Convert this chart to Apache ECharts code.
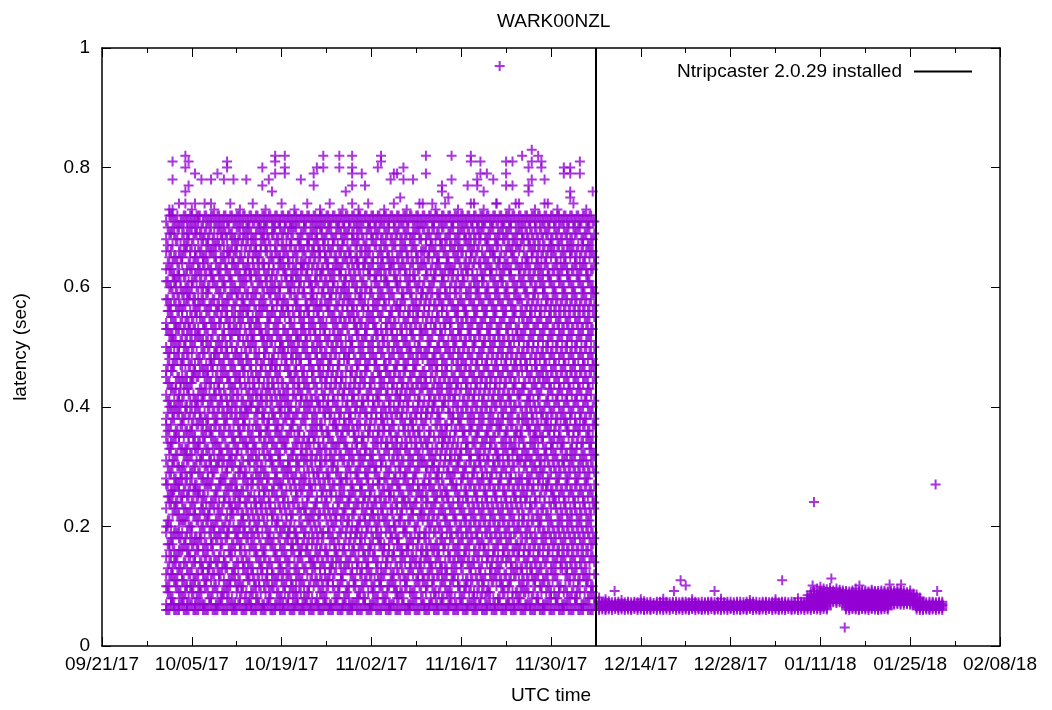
<!DOCTYPE html>
<html>
<head>
<meta charset="utf-8">
<script src="https://cdn.jsdelivr.net/npm/echarts@6/dist/echarts.min.js"></script>
<style>
  html, body { margin: 0; padding: 0; background: #fff; }
  #chart { width: 1052px; height: 710px; }
</style>
</head>
<body>
<div id="chart"></div>
<script>
// x tick labels, one every 14 days from 09/21/17
const xTickLabels = ["09/21/17", "10/05/17", "10/19/17", "11/02/17", "11/16/17", "11/30/17",
  "12/14/17", "12/28/17", "01/11/18", "01/25/18", "02/08/18"];
const yTickLabels = ["0", "0.2", "0.4", "0.6", "0.8", "1"];

const legendName = "Ntripcaster 2.0.29 installed";
const installTime = "2017-12-06 22:00";

// before the install: latencies (hundredths of a second), one column every 12 h from 10/01/17 00:00
const mainStart = "2017-10-01 00:00";
const mainColumns = [
  "06 07 10 12 15 19 20 23 27 28 31 35 37 38 42 45 46 50 53 54 58 61 63 66 68 71", "06 09 11 14 16 17 21 24 25 29 32 33 36 40 41 44 48 49 52 56 57 60 63 65 69 72 73", // 10/01
  "07 08 12 13 17 18 22 25 26 30 31 34 38 39 43 46 47 51 52 55 59 62 64 67 70 72", "06 10 11 14 15 19 23 24 27 28 32 35 36 40 43 44 48 51 53 54 57 60 61 65 68 71",
  "06 07 09 13 16 18 20 22 26 27 30 34 35 39 41 42 45 49 50 53 56 58 62 63 66 70 74", "07 08 11 12 16 19 21 24 25 28 30 33 37 38 41 45 47 48 52 55 56 59 64 65 69 71",
  "06 09 10 14 17 18 21 23 27 29 32 33 36 39 40 44 46 50 51 54 57 60 62 66 67 72", "06 08 12 15 16 20 22 25 26 31 34 35 38 42 43 47 49 53 54 58 59 61 64 68 69 71",
  "07 09 10 13 17 19 20 24 28 29 32 36 37 40 44 45 48 50 52 55 60 61 63 67 70 72 73", "06 07 11 14 15 18 22 23 26 27 30 33 35 39 41 46 47 51 53 56 58 62 65 66 69 71",
  "06 08 10 12 16 17 21 25 26 29 33 34 37 40 42 45 48 52 53 57 59 63 64 67 71 72", "07 09 13 14 18 20 23 24 28 31 32 36 38 41 43 47 50 51 55 58 60 62 66 68 70", // 10/06
  "06 07 10 11 15 17 19 22 25 27 30 34 35 39 42 44 46 49 53 54 57 61 63 65 69 72 74", "06 09 12 13 16 21 22 26 28 29 33 37 38 40 45 46 50 52 56 59 60 64 67 68 71",
  "07 08 11 14 17 18 20 24 27 30 31 35 36 41 44 47 48 51 54 57 62 63 66 70 72", "06 10 12 15 19 20 23 25 29 32 34 37 39 42 43 48 49 53 55 58 61 65 67 69 71 73",
  "06 07 09 13 14 18 21 23 26 30 31 34 38 40 44 46 49 51 56 57 60 63 68 70 72", "07 08 12 16 17 19 22 27 28 32 33 36 41 42 45 47 50 54 55 59 62 64 66 69 71",
  "06 09 11 14 15 20 24 25 28 31 35 37 39 43 46 48 52 53 57 60 61 65 67 70 72", "06 08 10 13 18 19 22 26 29 30 33 38 40 41 45 49 50 55 56 58 63 66 68 71",
  "07 10 11 15 16 21 23 24 27 31 32 36 39 42 44 47 51 52 54 59 61 62 66 69 72 74", "06 07 12 13 17 20 22 25 28 30 34 35 37 41 43 46 48 53 55 57 60 64 65 68 71", // 10/11
  "06 09 10 14 18 19 23 26 27 32 33 38 40 42 45 49 50 53 58 59 63 66 67 70 72", "07 08 11 16 17 20 24 25 29 30 35 36 39 44 45 48 52 54 56 60 62 65 69 71 73",
  "06 10 13 14 19 21 22 26 28 31 34 37 38 41 46 47 51 55 57 58 61 64 68 70 72", "06 07 09 12 15 18 23 24 27 29 33 34 39 40 43 48 49 52 56 59 61 63 67 69 71",
  "07 08 11 14 16 20 21 25 30 31 35 37 40 42 44 47 50 53 54 57 62 63 66 70 72", "06 09 12 13 17 19 22 27 28 32 34 36 41 43 45 51 52 55 58 60 64 65 68 71 74",
  "06 08 10 15 16 20 23 24 29 31 33 37 39 42 46 48 50 54 56 59 62 66 67 69 72", "07 10 11 14 18 21 25 26 28 32 35 36 40 44 45 49 53 55 57 61 63 65 70 71",
  "06 07 12 13 16 19 22 24 27 30 33 38 39 41 43 47 51 52 56 58 60 64 68 69 72", "06 09 11 15 17 20 23 26 29 31 34 36 40 42 46 49 50 53 57 61 62 66 67 70 71 73", // 10/16
  "07 08 10 14 18 19 24 25 28 32 35 37 38 43 45 48 52 54 55 59 63 64 68 72", "06 10 12 13 17 21 22 26 30 31 34 39 41 44 47 48 51 56 57 60 62 65 69 71",
  "06 07 11 15 16 20 23 25 28 29 33 36 38 42 46 47 50 53 55 59 61 66 67 70 72", "07 09 12 14 18 21 24 27 31 32 35 37 40 43 45 49 52 54 58 60 63 65 68 71",
  "06 08 11 13 16 19 22 26 27 30 34 36 39 41 44 48 50 51 56 57 61 64 67 69 72 74", "06 09 10 15 17 20 23 25 29 33 34 38 40 42 47 49 53 55 58 62 63 66 70 71",
  "07 08 12 14 18 19 24 28 30 31 35 39 41 43 46 50 52 56 57 60 64 65 69 72", "06 10 11 16 17 21 22 26 29 32 36 37 40 45 48 49 51 54 59 61 62 67 68 70 71",
  "06 07 09 13 15 19 20 24 27 28 33 35 38 42 44 46 50 53 55 58 60 63 66 70 72 73", "07 08 12 14 17 18 23 25 30 31 34 36 39 43 45 49 51 52 57 59 62 65 68 71", // 10/21
  "06 09 11 15 16 20 22 26 28 32 33 37 41 42 47 48 52 54 56 61 63 64 67 69 72", "06 08 10 13 18 19 23 27 29 31 35 38 40 44 46 50 53 55 59 60 64 66 70 71",
  "07 09 12 16 17 21 24 25 30 32 34 39 41 43 45 49 51 56 57 62 63 67 68 72 74", "06 07 11 14 15 20 22 26 27 31 33 36 40 42 47 48 52 54 58 60 61 65 69 71",
  "06 10 13 14 18 21 23 28 29 34 35 37 39 44 46 50 53 55 57 59 64 66 67 70 72", "07 08 11 15 17 19 24 25 29 32 36 38 41 43 48 49 51 56 58 61 63 68 69 71",
  "06 09 12 13 16 20 22 27 30 31 33 37 40 45 47 50 52 54 57 62 65 66 70 72 73", "06 08 10 14 18 19 23 26 28 34 35 39 41 42 46 48 53 55 59 60 63 67 68 71",
  "07 09 11 15 16 21 24 25 29 31 33 36 40 44 45 49 51 54 57 61 64 65 69 72", "06 07 12 13 17 19 22 26 28 32 35 38 39 43 47 48 52 56 58 59 62 66 70 71 74", // 10/26
  "06 10 11 14 18 20 23 27 30 31 34 37 41 42 46 50 53 55 60 61 63 67 68 72", "07 08 13 15 16 21 22 25 29 33 36 37 40 44 45 49 51 54 57 59 64 65 69 71",
  "06 09 10 14 17 19 24 26 28 32 34 38 39 43 47 48 52 55 58 62 63 66 70 72", "06 07 11 12 16 20 22 25 27 31 35 36 41 42 45 50 53 56 57 60 64 67 68 71 73",
  "07 09 13 15 18 19 23 28 29 33 34 37 40 44 46 49 51 54 59 61 62 65 69 72", "06 08 10 14 17 21 24 25 30 32 36 38 39 43 48 49 52 55 58 60 63 66 70 71",
  "06 07 12 13 16 20 22 26 27 31 33 37 41 42 46 50 51 56 57 61 64 68 69 72 74", "07 10 11 15 18 19 23 25 29 34 35 39 40 44 45 48 53 54 59 60 62 65 67 71",
  "06 08 09 14 16 20 21 24 28 30 32 36 38 42 43 47 50 52 55 58 63 64 68 70 72 73", "06 10 12 13 17 19 23 26 27 31 34 35 40 41 45 49 51 54 57 59 61 66 69 71", // 10/31
  "07 08 11 15 18 21 22 25 29 32 33 37 39 44 46 48 52 53 58 60 64 65 67 72", "06 09 13 14 16 20 24 27 28 30 35 36 41 42 47 50 54 56 57 62 63 66 70 71 74",
  "06 07 10 12 17 19 22 23 26 31 32 38 39 43 45 49 51 55 59 60 64 68 69 72", "07 09 11 15 16 21 24 25 29 30 34 37 40 44 47 48 53 54 57 61 62 67 70 71",
  "06 08 12 14 18 20 22 27 28 33 35 36 41 42 46 50 52 56 58 60 63 65 69 72", "06 10 11 13 17 19 23 25 30 31 34 38 39 43 45 49 53 55 59 62 64 66 68 71",
  "07 08 12 16 17 21 24 26 28 32 36 37 40 44 47 48 51 57 58 61 63 67 70 72 73", "06 09 10 14 15 20 22 27 29 33 34 38 42 43 46 50 52 54 60 61 65 66 69 71",
  "06 07 11 13 18 19 23 25 26 30 35 36 39 41 45 48 53 55 56 59 63 64 68 72", "07 10 12 15 16 20 21 25 28 31 33 37 40 44 46 49 51 54 58 62 64 67 70 71 74", // 11/05
  "06 08 09 13 17 18 23 24 27 32 34 35 39 42 43 47 50 52 57 60 61 65 69 72", "06 09 11 14 16 21 22 26 29 30 33 38 41 42 45 49 53 56 57 61 63 66 68 71",
  "07 08 12 15 19 20 24 25 28 31 36 37 40 44 46 48 51 55 58 59 64 67 70 72", "06 10 11 16 17 19 23 27 29 33 34 39 41 43 47 50 52 54 60 62 65 66 69 71 73",
  "06 07 09 13 14 18 21 24 26 30 32 35 38 42 45 49 50 53 56 59 61 63 68 72", "07 09 12 15 17 22 23 27 28 31 36 37 40 43 46 48 52 55 57 62 64 67 69 71",
  "06 08 11 14 16 20 24 25 29 33 34 38 39 44 47 49 54 56 58 60 65 66 70 72", "06 10 13 14 18 19 22 26 30 32 35 36 41 42 45 50 51 53 57 61 63 68 69 71 74",
  "07 08 11 12 16 21 23 25 27 31 33 37 40 43 46 48 52 55 59 60 64 66 70 72", "06 09 10 15 17 19 24 26 29 30 34 38 39 44 45 49 53 54 58 62 63 67 68 71", // 11/10
  "06 07 12 14 18 20 22 27 28 32 35 36 41 42 47 50 51 56 57 60 65 66 69 72", "07 10 11 13 16 21 23 26 30 31 33 39 40 43 46 48 52 55 59 61 64 67 70 71",
  "06 08 09 14 17 19 24 25 28 32 34 37 41 45 47 49 53 54 57 62 63 66 68 72 73", "06 09 12 15 16 20 22 27 29 30 35 38 39 42 44 50 51 55 58 59 64 65 69 71",
  "07 08 11 13 18 19 23 25 28 33 34 36 40 43 46 48 52 56 57 61 62 67 70 72", "06 10 12 14 17 21 22 26 31 32 35 37 41 45 47 50 53 54 59 60 63 66 68 71 74",
  "06 07 09 15 16 20 24 25 29 30 34 39 40 42 44 49 51 55 58 62 64 65 69 72", "07 09 11 13 18 19 23 27 28 31 33 37 38 43 46 48 52 54 57 61 63 67 70 71",
  "06 08 12 14 16 21 22 26 29 32 35 36 41 42 45 50 51 56 59 60 64 66 68 72", "06 10 11 15 17 19 24 25 30 31 34 38 40 44 47 49 53 55 57 62 65 67 69 71 73", // 11/15
  "07 08 13 14 18 20 23 27 28 32 33 37 39 43 46 48 52 54 58 60 63 66 70 72", "06 09 10 15 16 21 22 26 29 30 35 36 41 45 47 50 51 56 57 61 64 68 69 71",
  "06 07 11 14 17 19 24 25 28 33 34 38 40 42 44 49 53 55 59 62 63 67 70 72", "07 10 12 13 18 20 22 27 31 32 36 37 39 43 46 48 52 54 58 60 65 66 68 71",
  "06 08 09 14 16 21 23 26 29 30 34 38 41 42 45 50 51 55 57 61 64 67 69 72 74", "06 09 11 15 18 19 24 25 28 32 35 36 40 44 47 48 53 56 59 60 62 66 70 71",
  "07 08 12 13 17 20 22 27 30 31 33 37 39 43 45 49 52 54 58 63 64 68 69 72", "06 10 11 16 17 21 23 26 28 32 34 38 41 42 46 50 51 55 57 61 62 65 70 71 73",
  "06 07 09 14 15 19 24 25 29 31 35 36 40 44 47 48 53 56 59 60 64 67 68 72", "07 09 12 13 18 20 22 27 28 33 34 37 39 43 45 50 52 54 58 62 63 66 69 71", // 11/20
  "06 08 11 15 16 21 23 26 30 31 35 38 41 42 46 49 51 55 57 61 65 66 70 72", "06 10 12 14 17 19 24 25 29 32 33 37 40 44 47 48 53 56 59 60 63 67 68 71 74",
  "07 08 11 13 18 20 22 27 28 31 36 37 41 43 45 50 52 54 58 62 64 65 69 72", "06 09 10 15 16 21 23 26 30 32 34 38 39 42 46 49 51 55 57 61 63 68 70 71",
  "06 07 12 14 17 19 24 25 29 33 35 36 40 44 47 48 53 56 59 60 64 66 69 72", "07 10 11 15 18 20 22 27 28 31 34 38 41 42 45 50 51 54 58 62 63 67 70 71 73",
  "06 08 09 13 16 21 23 26 30 32 33 37 39 43 46 49 52 55 57 61 65 66 68 72", "06 09 12 14 17 19 24 25 28 33 35 36 40 44 47 48 53 56 59 60 64 67 69 71",
  "07 08 11 15 16 20 22 27 29 31 34 38 41 42 45 50 51 54 58 62 63 66 70 72 74", "06 10 12 13 18 21 23 26 28 32 35 37 39 43 46 49 52 55 57 61 64 68 69 71", // 11/25
  "06 07 09 14 17 19 24 25 30 31 33 38 40 44 47 48 53 56 59 60 63 65 70 72", "07 09 11 15 16 20 22 27 28 32 36 37 41 42 45 50 51 54 58 62 64 67 68 71",
  "06 08 12 13 18 21 23 26 29 31 34 38 39 43 46 49 52 55 57 61 65 66 69 72", "06 10 11 14 17 19 24 25 30 33 35 36 40 44 47 48 53 56 59 60 63 67 70 71 73",
  "07 08 12 15 16 20 22 27 28 32 34 37 41 42 45 50 51 54 58 62 64 66 68 72", "06 09 10 13 18 21 23 26 29 31 35 38 39 43 46 49 52 55 57 61 63 65 69 71",
  "06 07 11 14 17 19 24 25 30 32 33 37 40 44 47 48 53 56 59 60 64 67 70 72", "07 10 12 15 16 20 22 27 28 31 36 38 41 42 45 50 51 54 58 62 63 66 69 71 74",
  "06 08 09 13 18 21 23 26 29 33 34 37 39 43 46 49 52 55 57 61 65 67 68 72", "06 09 12 14 17 19 24 25 30 32 35 36 40 44 47 48 53 56 59 60 63 66 70 71", // 11/30
  "07 08 11 15 16 20 22 27 28 31 34 38 41 42 45 50 51 54 58 62 64 67 69 72 73", "06 10 13 14 18 21 23 26 29 33 35 37 39 43 46 49 52 55 57 61 63 65 68 71",
  "06 07 09 15 17 19 24 25 30 31 34 38 40 44 47 48 53 56 59 60 64 66 70 72", "07 09 12 13 16 20 22 27 28 32 36 37 41 42 45 50 51 54 58 62 63 67 69 71",
  "06 08 11 14 18 21 23 26 29 31 33 38 39 43 46 49 52 55 57 61 65 66 68 72", "06 10 12 15 17 19 24 25 30 32 35 36 40 44 47 48 53 56 59 60 63 67 70 71 74",
  "07 08 09 13 16 20 22 27 28 33 34 37 41 42 45 50 51 54 58 62 64 66 69 72", "06 09 11 14 18 21 23 26 29 31 36 38 39 43 46 49 52 55 57 61 63 65 70 71",
  "06 07 12 15 17 19 24 25 30 32 34 37 40 44 47 48 53 56 59 60 64 67 68 72", "07 10 11 13 16 20 22 27 28 31 35 38 41 42 45 50 51 54 58 62 63 66 69 71 73", // 12/05
  "06 08 12 14 18 21 23 26 29 33 34 36 39 43 46 49 52 55 57 61 65 67 70 72", "06 09 10 15 17 19 24 25 30 32 35 37 40 44 47 48 53 56 59 60 63 66 68 71"
];

// the samples in between, at 06:00 and 18:00 from 10/01/17 06:00
const mainMidStart = "2017-10-01 06:00";
const mainColumnsMid = [
  "06 09 10 13 17 20 21 25 27 30 34 36 39 41 44 47 49 53 56 58 61 64 67 70", "07 08 12 15 18 20 24 26 29 33 34 37 40 43 46 50 52 55 57 60 63 66 69 72", // 10/01
  "06 07 11 14 16 19 23 26 28 31 35 38 40 42 47 49 51 54 58 61 62 65 69 71", "06 10 12 15 19 22 24 27 30 32 36 39 41 45 48 50 53 56 59 62 64 68 70 72",
  "07 09 13 16 18 21 25 28 29 33 37 40 43 44 47 51 54 57 60 61 65 67 71", "06 08 11 14 17 21 23 26 30 32 35 38 42 44 48 50 53 57 59 62 66 68 70 72",
  "06 07 10 13 16 19 22 25 28 31 33 36 40 43 45 49 52 55 58 60 63 67 69 71", "07 10 12 15 18 20 23 27 29 32 36 39 41 44 47 51 53 56 59 63 65 66 70 72",
  "06 09 11 14 17 22 24 26 30 34 35 38 42 45 46 50 54 57 58 61 64 68 71", "06 08 12 16 18 21 25 27 31 33 37 40 41 45 49 52 55 56 60 62 65 69 70 72",
  "07 09 10 14 18 19 22 26 29 31 34 38 39 43 46 48 52 55 57 61 63 66 69 72", "06 07 12 13 16 20 23 25 28 32 35 37 41 42 46 49 51 54 58 60 64 65 68 71", // 10/06
  "06 10 11 15 17 21 24 27 30 33 36 38 43 45 47 51 53 56 59 62 65 67 70 72", "07 08 13 14 19 22 23 27 31 32 36 40 42 44 48 50 55 57 60 63 66 69 71",
  "06 09 12 16 17 20 24 28 29 33 35 39 41 46 47 52 54 58 61 62 66 68 72", "06 07 10 14 18 21 25 26 30 34 37 38 42 45 49 50 53 56 60 64 65 67 71",
  "07 11 12 15 19 22 24 27 31 33 36 40 43 44 48 51 54 57 59 62 63 67 70 72", "06 08 09 13 17 20 23 28 30 32 35 39 41 45 47 50 52 56 58 61 65 68 69 71",
  "06 10 13 14 18 21 25 27 29 34 37 38 42 46 49 51 55 57 60 63 64 69 72", "07 09 11 16 19 20 24 26 31 33 36 40 44 45 48 53 54 58 62 65 66 70 71",
  "06 08 12 15 17 22 23 27 30 32 35 39 41 43 47 50 52 56 59 61 64 67 69 72", "06 07 11 13 16 19 24 26 28 31 34 38 40 44 46 49 53 55 57 60 63 66 68 71", // 10/11
  "07 10 12 14 18 20 23 25 29 33 36 37 42 45 48 51 52 55 59 62 64 68 70 72", "06 09 10 15 17 21 22 26 30 32 35 39 41 43 47 49 54 56 58 61 65 67 71",
  "06 08 13 16 19 20 24 28 29 34 37 38 40 44 46 50 53 57 60 62 63 66 69 72", "07 11 12 14 18 22 25 27 31 33 36 39 42 45 48 51 55 56 59 64 65 68 70 71",
  "06 07 09 13 17 19 23 26 28 32 35 40 41 46 47 50 52 54 58 61 62 67 69 72", "06 10 11 16 18 21 24 25 30 33 34 38 43 44 49 51 53 57 59 63 66 68 71",
  "07 08 12 15 19 20 22 27 29 31 37 39 40 42 45 48 54 55 60 62 64 65 70 72", "06 09 13 14 17 23 24 28 30 35 36 41 42 46 47 52 53 56 58 61 66 67 69 71",
  "06 07 10 15 16 21 25 26 29 32 34 38 39 44 48 49 51 57 59 63 64 68 70 72", "07 11 12 13 18 20 22 27 28 33 36 37 41 43 45 50 52 54 56 60 62 66 69 71", // 10/16
  "06 08 09 14 17 19 23 24 31 32 35 40 42 46 47 51 55 58 59 61 65 67 72", "06 10 12 16 18 22 26 27 30 34 38 39 43 44 48 49 53 56 60 63 64 69 70 71",
  "07 09 11 15 20 21 25 28 29 33 36 37 41 45 47 52 54 57 58 62 66 68 72", "06 08 13 14 17 19 23 27 31 32 35 39 40 42 46 50 51 55 59 60 64 65 70 71",
  "06 07 10 12 16 20 24 25 28 30 34 37 42 44 49 50 53 56 58 63 65 67 69 72", "07 11 13 15 18 21 22 26 29 33 35 38 41 43 47 48 52 57 61 62 66 68 71",
  "06 09 12 14 19 20 23 27 30 31 36 39 40 45 46 51 54 55 59 60 64 67 70 72", "06 08 10 16 17 22 24 28 32 33 37 38 42 44 48 50 53 56 61 63 65 69 71",
  "07 09 11 13 18 19 25 26 29 31 34 39 41 46 47 49 52 57 58 62 64 66 70 72", "06 10 12 15 16 21 23 27 30 35 36 40 43 44 48 51 55 56 60 61 67 68 71", // 10/21
  "06 07 11 14 17 20 24 26 28 32 34 38 42 45 46 50 53 54 59 63 64 66 69 72", "07 08 13 16 19 22 23 28 31 33 37 39 41 44 49 51 52 57 58 62 65 70 71",
  "06 09 10 15 18 21 25 27 29 34 35 40 43 47 48 53 55 56 61 64 67 68 72", "06 08 12 14 17 19 22 26 30 32 36 38 41 45 46 50 54 58 59 60 63 66 69 71",
  "07 11 13 16 20 23 24 27 31 35 37 39 42 44 49 52 53 57 61 62 65 68 70 72", "06 07 10 15 18 21 22 28 29 33 34 40 41 46 47 51 55 56 60 64 66 67 71",
  "06 09 11 14 17 19 25 26 30 32 36 37 43 45 48 50 54 57 59 62 63 69 70 72", "07 08 12 13 16 22 24 27 31 33 38 39 42 44 49 52 53 58 61 65 66 68 71",
  "06 10 11 15 19 20 23 28 29 35 36 40 41 46 47 51 56 57 60 63 64 67 70 72", "06 07 13 14 18 21 25 26 30 32 34 39 43 45 48 50 55 58 59 62 66 69 71", // 10/26
  "07 09 12 16 17 20 22 27 31 33 37 38 41 44 49 52 54 56 61 63 65 68 72", "06 08 10 15 18 23 24 29 30 34 36 40 42 46 47 51 53 57 60 64 67 70 71",
  "06 11 12 14 19 21 25 27 28 32 35 39 44 45 50 52 55 59 62 63 66 69 72", "07 08 13 16 17 22 23 26 31 34 37 38 42 43 48 49 54 58 60 61 65 68 70 71",
  "06 09 10 14 20 21 24 28 30 33 36 40 41 47 48 53 56 57 59 64 67 69 72", "06 07 12 15 18 19 25 27 29 32 38 39 43 45 46 50 51 55 58 62 65 66 71",
  "07 10 11 16 17 22 23 26 31 35 36 41 42 44 49 54 55 57 61 63 68 70 72", "06 08 13 14 19 20 24 28 29 33 34 37 40 46 47 52 53 56 60 64 65 67 69 71",
  "06 09 12 17 18 21 26 27 30 32 37 39 43 45 48 50 54 58 59 62 66 70 72", "07 08 10 15 16 22 24 25 31 34 35 40 41 44 49 51 56 57 61 63 64 68 71", // 10/31
  "06 11 13 14 19 20 23 28 29 33 38 39 42 46 47 52 53 55 60 65 67 69 72", "06 07 12 16 17 21 25 26 30 32 36 37 43 44 48 50 55 59 62 63 66 70 71",
  "07 09 10 15 18 22 23 27 31 33 35 40 41 45 49 51 54 56 58 64 65 68 72", "06 08 13 14 19 20 24 29 30 34 38 39 42 47 48 52 53 57 61 62 67 69 71",
  "06 10 11 17 18 21 25 27 28 32 36 41 43 45 46 50 55 58 60 63 66 70 72", "07 09 12 15 16 22 23 26 31 35 37 38 40 44 49 51 52 56 59 64 65 68 71",
  "06 08 13 14 19 21 24 28 30 33 34 39 42 46 47 53 54 57 61 62 67 69 72", "06 07 10 16 17 20 25 26 29 32 36 40 41 45 48 50 55 58 60 63 65 70 71",
  "07 11 12 15 18 22 23 27 31 34 37 38 43 44 49 52 53 56 59 64 66 68 72", "06 09 10 14 19 20 24 28 29 33 35 39 42 46 47 51 54 57 61 62 67 69 71", // 11/05
  "06 08 12 17 18 21 26 27 30 32 36 40 41 45 48 50 55 56 60 63 65 70 72", "07 09 13 15 16 22 23 25 31 34 38 39 43 44 49 52 53 58 59 64 66 68 71",
  "06 10 11 14 19 20 24 28 29 33 35 37 42 46 47 51 54 57 62 63 67 69 72", "06 07 12 16 17 21 25 27 30 32 36 40 41 44 48 50 55 56 60 61 65 70 71",
  "07 09 13 15 18 22 23 26 31 34 37 38 43 45 49 52 53 58 59 64 66 68 72", "06 08 10 14 19 20 24 28 29 33 35 39 42 46 47 51 54 57 61 62 67 69 71",
  "06 11 12 17 18 21 26 27 30 32 36 40 41 44 48 50 55 56 60 63 65 70 72", "07 09 13 15 16 22 23 25 31 34 38 39 43 45 49 52 53 58 59 64 66 68 71",
  "06 07 11 14 18 19 22 27 28 31 35 37 41 44 46 49 53 56 57 61 64 66 70 72", "06 10 12 15 16 21 24 25 30 33 34 39 40 43 48 50 52 55 59 62 65 69 71", // 11/10
  "07 08 13 14 17 20 23 27 29 32 36 38 42 45 47 51 54 58 60 63 67 68 72", "06 09 11 16 19 22 24 26 30 31 35 40 41 44 48 49 53 57 61 62 66 70 71",
  "06 07 12 15 17 21 25 28 29 33 37 39 43 46 47 50 55 56 59 64 65 69 72", "07 10 13 14 18 20 23 26 31 32 36 38 42 44 49 52 53 58 60 63 67 68 71",
  "06 08 11 16 17 22 24 27 30 34 35 40 41 45 48 51 54 57 61 62 66 70 72", "06 09 12 13 19 21 25 26 29 33 36 37 43 46 47 50 55 56 59 64 65 68 71",
  "07 08 10 15 18 20 23 28 31 32 35 39 42 44 49 53 54 58 60 63 67 69 72", "06 11 12 14 17 22 24 27 29 34 38 39 41 45 48 50 52 57 62 63 66 70 71",
  "06 07 13 16 19 21 26 27 30 33 36 40 43 44 47 51 55 56 59 61 65 68 72", "07 09 10 15 17 20 23 25 31 32 37 38 42 46 49 52 53 58 60 64 67 69 71", // 11/15
  "06 08 12 14 18 22 24 28 29 35 36 39 41 45 48 50 54 57 61 62 66 70 72", "06 10 11 16 19 21 25 26 30 33 34 40 43 44 47 51 55 56 59 63 65 68 71",
  "07 09 13 15 17 20 23 27 31 32 36 38 42 46 49 52 53 58 60 64 67 69 72", "06 08 11 14 18 22 24 28 29 34 37 39 41 45 48 50 54 57 62 63 66 70 71",
  "06 07 12 16 19 21 25 26 30 33 35 40 43 44 47 51 55 56 59 61 65 68 72", "07 10 13 15 17 20 23 27 31 32 36 38 42 46 49 52 53 58 60 64 67 69 71",
  "06 09 11 14 18 22 24 28 29 34 37 39 41 45 48 50 54 57 61 62 66 70 72", "06 08 12 16 19 21 25 26 30 33 35 40 43 44 47 51 55 56 59 63 65 68 71",
  "07 09 10 15 17 20 23 27 31 32 36 38 42 46 49 52 53 58 60 64 67 69 72", "06 11 13 14 18 22 24 28 29 34 37 39 41 45 48 50 54 57 62 63 66 70 71", // 11/20
  "06 07 12 16 19 21 25 26 30 33 35 40 43 44 47 51 55 56 59 61 65 68 72", "07 08 13 15 17 20 23 27 31 32 36 38 42 46 49 52 53 58 60 64 67 69 71",
  "06 10 11 14 18 22 24 28 29 34 37 39 41 45 48 50 54 57 61 62 66 70 72", "06 09 12 16 19 21 25 26 30 33 35 40 43 44 47 51 55 56 59 63 65 68 71",
  "07 08 10 15 17 20 23 27 31 32 36 38 42 46 49 52 53 58 60 64 67 69 72", "06 11 13 14 18 22 24 28 29 34 37 39 41 45 48 50 54 57 62 63 66 70 71",
  "06 07 12 16 19 21 25 26 30 33 35 40 43 44 47 51 55 56 59 61 65 68 72", "07 09 13 15 17 20 23 27 31 32 36 38 42 46 49 52 53 58 60 64 67 69 71",
  "06 08 10 13 17 19 24 25 28 31 35 36 40 42 47 48 52 56 58 61 63 67 70 72", "06 09 11 15 16 21 22 26 30 33 34 38 43 44 49 51 53 55 60 62 66 68 71", // 11/25
  "07 10 12 14 18 20 25 27 29 32 37 39 41 46 47 50 54 57 59 64 65 69 72", "06 07 13 16 19 23 24 28 31 34 36 40 42 45 48 52 55 56 61 63 67 70 71",
  "06 09 11 15 17 21 26 27 30 33 35 38 41 44 50 51 53 58 59 62 66 68 72", "07 08 12 14 18 22 24 29 32 35 37 39 43 46 47 49 54 57 60 64 65 69 71",
  "06 10 13 16 20 21 25 28 30 31 36 40 42 45 48 52 55 56 61 63 67 70 72", "06 07 11 15 17 19 23 27 29 34 35 39 44 46 49 51 53 59 60 62 66 68 71",
  "07 09 12 14 18 22 26 27 32 33 37 38 41 45 47 50 54 57 58 64 65 69 72", "06 08 10 16 19 21 24 28 30 35 36 40 43 44 48 52 55 56 61 62 67 70 71",
  "06 11 13 15 17 20 25 26 31 33 34 39 42 46 49 51 53 58 60 63 66 68 72", "07 08 12 14 18 23 24 27 29 32 37 38 41 45 47 50 55 57 59 64 65 69 71", // 11/30
  "06 09 10 16 19 21 25 28 30 35 36 40 43 44 48 52 54 56 61 62 67 70 72", "06 07 13 15 17 20 22 26 31 33 34 39 42 46 49 51 53 58 60 63 66 68 71",
  "07 10 12 14 18 23 24 27 29 32 37 38 41 45 47 50 55 57 59 64 65 69 72", "06 08 11 16 19 21 25 28 30 35 36 40 43 44 48 52 54 56 61 62 67 70 71",
  "06 09 13 15 17 20 22 26 31 33 34 39 42 46 49 51 53 58 60 63 66 68 72", "07 08 12 14 18 23 24 27 29 32 37 38 41 45 47 50 55 57 59 64 65 69 71",
  "06 10 11 16 19 21 25 28 30 35 36 40 43 44 48 52 54 56 61 62 67 70 72", "06 07 13 15 17 20 22 26 31 33 34 39 42 46 49 51 53 58 60 63 66 68 71",
  "07 09 12 14 18 23 24 27 29 32 37 38 41 45 47 50 55 57 59 64 65 69 72", "06 08 11 16 19 21 25 28 30 35 36 40 43 44 48 52 54 56 61 62 67 70 71", // 12/05
  "06 09 10 15 17 20 22 26 31 33 34 39 42 46 49 51 53 58 60 63 66 68 72", "07 08 12 14 18 23 24 27 29 32 37 38 41 45 47 50 55 57 59 64 65 69 71"
];

// sparse high latencies above the dense band
const mainHigh = [
  ["2017-10-02 00:00", [0.81, 0.78, 0.73]], ["2017-10-04 00:00", [0.82, 0.80, 0.76, 0.74]],
  ["2017-10-04 12:00", [0.81, 0.77]], ["2017-10-05 12:00", [0.79, 0.74]], ["2017-10-06 12:00", [0.78]],
  ["2017-10-08 00:00", [0.78, 0.74]], ["2017-10-09 00:00", [0.79]], ["2017-10-10 00:00", [0.78]],
  ["2017-10-10 12:00", [0.81, 0.80]], ["2017-10-11 12:00", [0.78]], ["2017-10-13 12:00", [0.78]],
  ["2017-10-16 00:00", [0.80, 0.77]], ["2017-10-17 00:00", [0.78]], ["2017-10-17 12:00", [0.76]],
  ["2017-10-18 00:00", [0.82, 0.81, 0.79]], ["2017-10-19 12:00", [0.82, 0.80, 0.79]], ["2017-10-22 00:00", [0.78]],
  ["2017-10-24 00:00", [0.79, 0.77]], ["2017-10-24 12:00", [0.80]], ["2017-10-25 12:00", [0.82, 0.80]],
  ["2017-10-28 00:00", [0.82, 0.80]], ["2017-10-29 00:00", [0.76]], ["2017-10-30 00:00", [0.82, 0.80, 0.79, 0.77]],
  ["2017-10-31 12:00", [0.79]], ["2017-11-01 00:00", [0.77]], ["2017-11-03 00:00", [0.80]],
  ["2017-11-03 12:00", [0.82, 0.81]], ["2017-11-05 00:00", [0.78]], ["2017-11-05 12:00", [0.79]],
  ["2017-11-06 00:00", [0.79]], ["2017-11-06 12:00", [0.75]], ["2017-11-07 00:00", [0.80, 0.78]],
  ["2017-11-08 12:00", [0.78]], ["2017-11-10 00:00", [0.74]], ["2017-11-10 12:00", [0.82, 0.79]],
  ["2017-11-11 12:00", [0.74]], ["2017-11-13 00:00", [0.77, 0.76]], ["2017-11-14 00:00", [0.75]],
  ["2017-11-14 12:00", [0.82, 0.78]], ["2017-11-17 00:00", [0.77]], ["2017-11-17 12:00", [0.82, 0.81, 0.74]],
  ["2017-11-18 12:00", [0.78, 0.77]], ["2017-11-19 00:00", [0.81, 0.79]], ["2017-11-19 12:00", [0.76]],
  ["2017-11-20 00:00", [0.79]], ["2017-11-21 00:00", [0.78]], ["2017-11-21 12:00", [0.74]],
  ["2017-11-22 00:00", [0.97]], ["2017-11-23 00:00", [0.81, 0.79, 0.77]], ["2017-11-24 00:00", [0.81, 0.77]],
  ["2017-11-24 12:00", [0.74]], ["2017-11-25 12:00", [0.82]], ["2017-11-26 12:00", [0.80, 0.77, 0.76]],
  ["2017-11-27 00:00", [0.83, 0.81, 0.78]], ["2017-11-28 00:00", [0.82]], ["2017-11-28 12:00", [0.81, 0.80]],
  ["2017-11-29 00:00", [0.78, 0.74]], ["2017-12-02 00:00", [0.80, 0.79]], ["2017-12-03 00:00", [0.80, 0.79, 0.76, 0.75]],
  ["2017-12-04 12:00", [0.81, 0.79]], ["2017-12-06 12:00", [0.76]]
];

// after the install: latencies (milliseconds), one column every 12 h from 12/07/17 12:00
const lowStart = "2017-12-07 12:00";
const lowColumns = [
  "60 63 66 69 72 75 81", "61 64 67 70 73", "60 62 65 68 71 74 78", "61 63 66 70 72 75", "60 64 67 69 73", "62 65 68 71 74",
  "60 63 65 69 71 74", "61 64 66 68 72 77", "60 63 66 70 73", "61 64 65 69 71 74", "60 62 64 67 70 73", "62 64 66 69 71 74",
  "60 63 65 68 70 73", "61 64 67 70 73 78", "60 62 66 69 72 75", "61 63 66 68 70 73", "60 62 65 68 71 74", "62 64 67 69 72",
  "60 63 66 68 71 74", "61 64 66 70 72 74", "60 63 66 69 73 79", "61 64 66 68 71 74", "60 63 66 70 73", "62 65 67 69 72 74",
  "60 64 66 68 71 74", "61 63 65 68 70 73", "60 63 66 70 72 74", "61 63 66 69 71 74", "60 62 65 67 70 73", "62 64 66 68 71 74 78",
  "60 63 66 69 72 74", "61 63 65 68 71 73", "60 62 64 67 70 74", "61 64 66 68 71 73", "60 63 65 69 72 74", "62 65 67 70 72 74",
  "60 62 64 67 69 73", "61 63 66 68 71 74", "60 63 65 68 71 74 79", "61 64 67 70 73", "60 63 66 69 71 74", "62 63 65 68 70 74",
  "60 63 65 68 70 73", "61 64 66 69 71 74", "60 62 66 68 70 74", "61 63 65 67 69 73", "60 62 64 68 71 74", "62 64 66 70 73 77",
  "60 63 66 69 71 74", "61 63 65 68 70 74", "60 62 64 66 68 73", "61 64 66 69 71 74", "60 63 65 69 72 74", "62 64 67 70 73",
  "60 63 66 68 71 74", "61 63 66 69 71 74 78", "60 62 65 68 71 73", "61 64 66 70 72 74", "60 63 66 69 71 74", "62 65 67 68 70 73",
  "60 62 64 67 70 74", "61 63 66 69 71 73", "60 63 65 68 71 74 80", "61 64 66 68 71 74", "60 63 66 70 73",
  "61 64 66 69 71 74 76 80 85", "60 63 65 68 70 73 75 78 80 83 86 91", "62 64 67 70 72 75 77 80 82 85 88 92", "61 63 66 69 71 74 76 79 81 84 87 96",
  "60 63 65 68 70 73 76 79 82 85 88 90 93 99", "62 65 67 70 73 75 78 81 84 87 90 96", "61 63 66 69 72 75 78 80 83 86 89 95",
  "72 74 77 79 82 84 87 89 92 97", "73 75 78 80 83 85 88 90 93", "72 74 76 79 81 84 86 88 91 96", "73 75 78 81 84 86 89 91 94", "72 75 77 80 82 85 88 90 93",
  "61 64 66 69 71 74 77 79 82 85 87 90 92", "60 63 65 68 71 73 76 78 81 83 86 88 91", "62 64 67 69 72 75 77 80 83 85 88 90 93", "61 63 66 69 71 74 76 79 82 84 87 89 96",
  "60 62 65 67 70 72 75 78 81 83 86 88 91", "62 64 67 70 73 75 78 80 83 85 88 90 92", "61 63 66 68 71 74 77 79 82 84 87 90 93", "60 63 65 68 70 73 76 78 81 83 86 89 91",
  "62 64 66 69 72 74 77 79 82 85 88 91 94", "61 64 67 69 72 75 77 80 83 85 88 90 92", "60 62 65 68 71 73 76 78 81 84 87 89 92", "61 63 66 68 71 73 76 79 82 84 87 90 93",
  "62 65 67 70 72 75 78 80 83 85 88 90 92", "61 63 66 68 71 74 77 79 82 84 87 89 91",
  "69 71 74 76 79 81 84 86 89 93", "69 71 73 76 78 80 83 85 88 92", "70 72 75 77 80 82 85 87 90 95", "69 71 74 76 79 82 84 86 89 93",
  "69 72 74 76 78 81 83 86 88 92", "70 72 75 77 80 83 85 87 90", "69 71 74 77 79 81 84 86 88 93", "69 71 73 76 78 81 83 85 88",
  "61 64 66 68 71 73 76 78 81 86", "60 63 65 67 70 73 76 78 81",
  "60 62 64 67 69 72 74", "61 63 65 68 70 73", "60 62 64 66 68 71 74", "61 63 66 68 70 72 74", "60 63 65 67 69 71 73", "61 63 64 67 70 72 74", "60 63 66 68 69 71 74"
];

const lowOutliers = [
  ["2017-12-09 22:00", 0.092], ["2017-12-19 04:00", 0.092], ["2017-12-20 05:00", 0.110],
  ["2017-12-21 00:00", 0.101], ["2017-12-25 12:00", 0.092], ["2018-01-05 01:00", 0.110],
  ["2018-01-09 19:00", 0.101], ["2018-01-10 00:00", 0.241], ["2018-01-12 17:00", 0.113],
  ["2018-01-14 19:00", 0.031], ["2018-01-17 02:00", 0.101], ["2018-01-21 19:00", 0.103],
  ["2018-01-23 14:00", 0.103], ["2018-01-28 23:00", 0.270], ["2018-01-29 05:00", 0.092]
];

// x axis runs in days since 09/21/17 00:00 UTC
function toDay(s) {
  return (Date.parse(s.replace(" ", "T") + ":00Z") - Date.parse("2017-09-21T00:00:00Z")) / 86400000;
}

const points = [];
function addColumns(cols, start, scale) {
  cols.forEach((col, i) => {
    const x = toDay(start) + i * 0.5; // 12 h between columns
    col.split(" ").forEach(v => points.push([x, Number(v) / scale]));
  });
}
addColumns(mainColumns, mainStart, 100);
addColumns(mainColumnsMid, mainMidStart, 100);
mainHigh.forEach(([t, vals]) => vals.forEach(v => points.push([toDay(t), v])));
addColumns(lowColumns, lowStart, 1000);
lowOutliers.forEach(([t, v]) => points.push([toDay(t), v]));

const font = "Liberation Sans, Arial, sans-serif";
const txt = { fontFamily: font, fontSize: 19, color: "#000" };
const black = { color: "#000", width: 1.5 };

function xAxisCfg(pos) {
  return {
    type: "value", position: pos, min: 0, max: 140, interval: 14,
    axisLine: { show: true, onZero: false, lineStyle: black },
    axisTick: { show: true, inside: true, length: 9, lineStyle: { color: "#000", width: 1 } },
    minorTick: { show: true, splitNumber: 2, length: 5, lineStyle: { color: "#000", width: 1 } },
    splitLine: { show: false },
    axisLabel: pos === "bottom" ? {
      show: true, margin: 9, showMinLabel: true, showMaxLabel: true,
      formatter: v => xTickLabels[Math.round(v / 14)], ...txt
    } : { show: false },
    name: pos === "bottom" ? "UTC time" : "",
    nameLocation: "middle", nameGap: 40, nameTextStyle: txt
  };
}

function yAxisCfg(pos) {
  return {
    type: "value", position: pos, min: 0, max: 1, interval: 0.2,
    axisLine: { show: true, onZero: false, lineStyle: black },
    axisTick: { show: true, inside: true, length: 9, lineStyle: { color: "#000", width: 1 } },
    splitLine: { show: false },
    axisLabel: pos === "left" ? {
      show: true, margin: 12, formatter: v => yTickLabels[Math.round(v * 5)], ...txt
    } : { show: false },
    name: pos === "left" ? "latency (sec)" : "",
    nameLocation: "middle", nameRotate: 90, nameGap: 72, nameTextStyle: txt
  };
}

const chart = echarts.init(document.getElementById("chart"), null, { renderer: "canvas" });
chart.setOption({
  animation: false,
  backgroundColor: "#fff",
  title: {
    text: "WARK00NZL", left: 492, top: 7,
    textStyle: { fontFamily: font, fontSize: 19, fontWeight: "normal", color: "#000" }
  },
  legend: {
    data: [legendName], right: 75, top: 57, align: "right",
    icon: "rect", itemWidth: 58, itemHeight: 2, selectedMode: false,
    textStyle: { fontFamily: font, fontSize: 19, color: "#000", padding: [0, 7, 0, 0] }
  },
  grid: { left: 102, top: 48, width: 898, height: 599 },
  xAxis: [xAxisCfg("bottom"), xAxisCfg("top")],
  yAxis: [yAxisCfg("left"), yAxisCfg("right")],
  series: [
    {
      name: "latency", type: "scatter",
      // plus marker, two bars 2 px thick at this size
      symbol: "path://M0,4H10V6H0Z M4,0H6V10H4Z",
      symbolSize: 10, large: false, progressive: 0, silent: true,
      itemStyle: { color: "#9400d3" },
      data: points,
      markLine: {
        silent: true, symbol: ["none", "none"], label: { show: false },
        lineStyle: { color: "#000", width: 2, type: "solid" },
        data: [{ xAxis: toDay(installTime) }]
      }
    },
    { name: legendName, type: "line", data: [], color: "#000", lineStyle: { color: "#000", width: 2 } }
  ]
});
</script>
</body>
</html>
